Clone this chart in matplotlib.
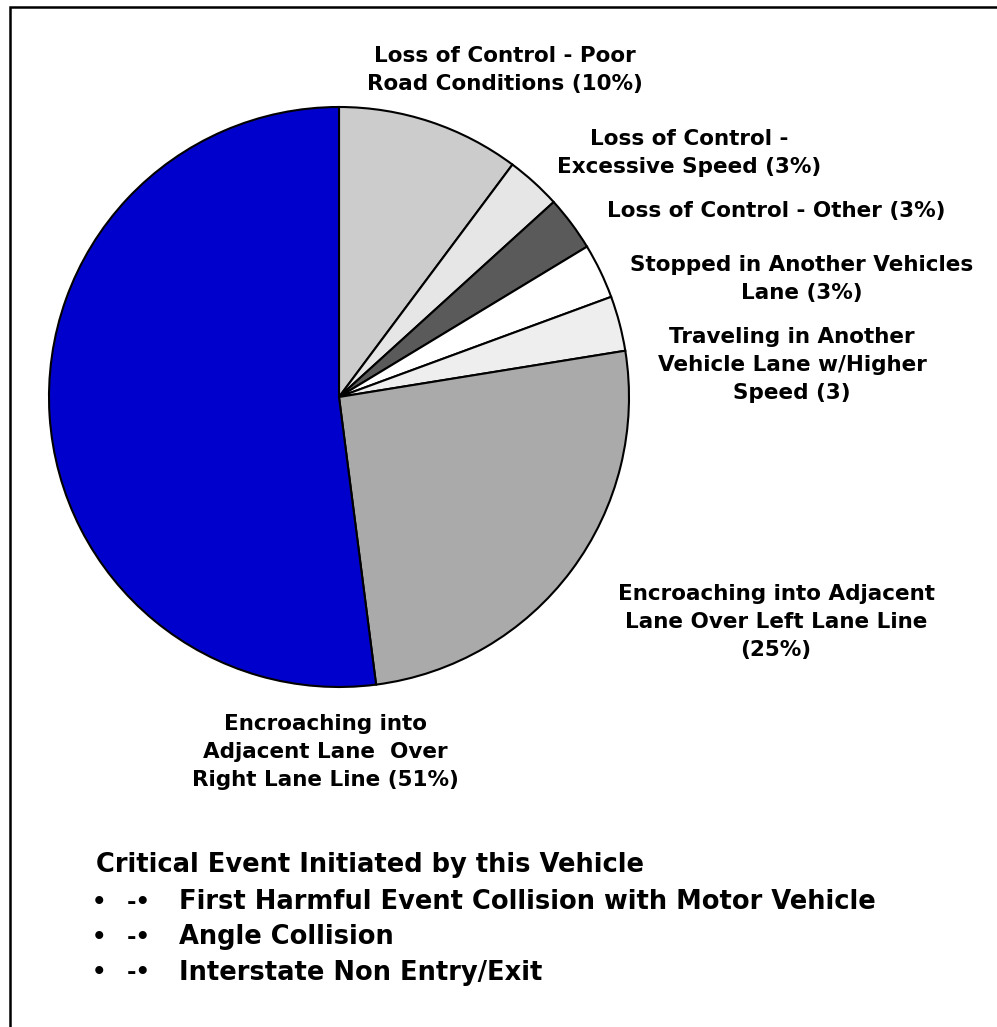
import matplotlib
matplotlib.use("Agg")
import matplotlib.pyplot as plt
from matplotlib.patches import Rectangle

categories = [
    "Loss of Control - Poor\nRoad Conditions (10%)",
    "Loss of Control -\nExcessive Speed (3%)",
    "Loss of Control - Other (3%)",
    "Stopped in Another Vehicles\nLane (3%)",
    "Traveling in Another\nVehicle Lane w/Higher\nSpeed (3)",
    "Encroaching into Adjacent\nLane Over Left Lane Line\n(25%)",
    "Encroaching into\nAdjacent Lane  Over\nRight Lane Line (51%)",
]
values = [10, 3, 3, 3, 3, 25, 51]
colors = ["#cccccc", "#e6e6e6", "#5a5a5a", "#ffffff", "#eeeeee", "#aaaaaa", "#0000cc"]
footer_title = "Critical Event Initiated by this Vehicle"
footer_items = [
    "First Harmful Event Collision with Motor Vehicle",
    "Angle Collision",
    "Interstate Non Entry/Exit",
]

W, H = 997, 1027
fig = plt.figure(figsize=(W / 100, H / 100), dpi=100)
fig.patch.set_facecolor("white")

def fx(px):
    return px / W

def fy(py):
    return 1 - py / H

cx, cy, r = 339, 397, 290
ax = fig.add_axes([fx(cx - r), fy(cy + r), 2 * r / W, 2 * r / H])
ax.pie(values, colors=colors, startangle=90, counterclock=False, radius=1,
       wedgeprops=dict(edgecolor="black", linewidth=1.5))
ax.set_xlim(-1, 1)
ax.set_ylim(-1, 1)
ax.set_aspect("auto")
ax.axis("off")

# frame
fig.patches.append(Rectangle((fx(9.5), -0.1), 1.2, fy(6.5) + 0.1, transform=fig.transFigure,
                             fill=False, edgecolor="black", linewidth=1.8))

font = dict(family="DejaVu Sans", fontweight="bold", color="black")
label_pos = [(505, 70), (689, 153), (776, 211), (802, 279), (792, 365), (776, 622), (325, 752)]
lsize = 15.5
for text, (x, y) in zip(categories, label_pos):
    fig.text(fx(x), fy(y), text, ha="center", va="center", fontsize=lsize,
             linespacing=1.5, **font)

fsize = 18.5
fig.text(fx(96), fy(865), footer_title, ha="left", va="center", fontsize=fsize, **font)
for i, item in enumerate(footer_items):
    y = 902 + i * 35.5
    fig.text(fx(92), fy(y), "\u2022", ha="left", va="center", fontsize=fsize - 2, **font)
    fig.text(fx(127), fy(y), "-\u2022", ha="left", va="center", fontsize=fsize - 2, **font)
    fig.text(fx(179), fy(y), item, ha="left", va="center", fontsize=fsize, **font)

fig.savefig("out.png", dpi=100)
